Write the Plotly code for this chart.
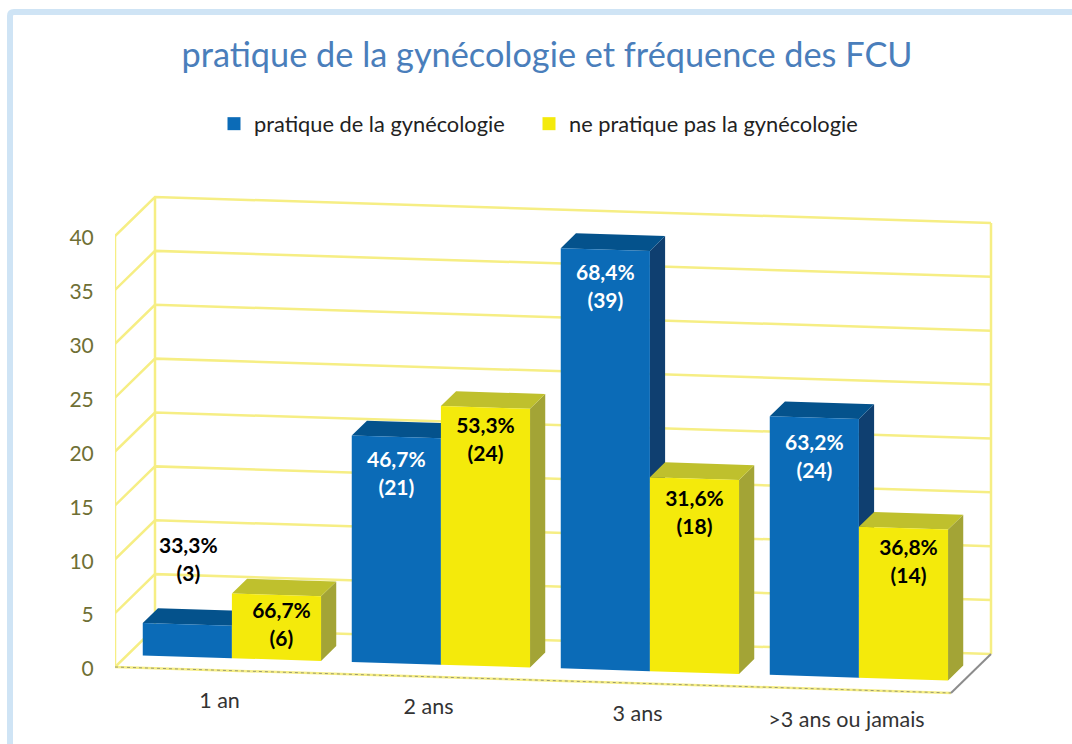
import plotly.graph_objects as go

# ---- data ----
categories = ["1 an", "2 ans", "3 ans", ">3 ans ou jamais"]
series_names = ["pratique de la gynécologie", "ne pratique pas la gynécologie"]
pratique = [3, 21, 39, 24]
ne_pratique = [6, 24, 18, 14]
pct_pratique = ["33,3%", "46,7%", "68,4%", "63,2%"]
pct_ne_pratique = ["66,7%", "53,3%", "31,6%", "36,8%"]
y_ticks = [0, 5, 10, 15, 20, 25, 30, 35, 40]

# ---- oblique projection of the 3D chart box onto the 2D axes ----
W, H = 1072, 744
M_L, M_R, M_T, M_B = 115, 72, 170, 9
PX_PER_CAT = 209.0
PX_PER_VAL = 10.775
DEPTH_X = 40 / PX_PER_CAT
DEPTH_Y = 39 / PX_PER_VAL
SLOPE = 6.49 / PX_PER_VAL
D0, D1 = 0.31, 0.69
BAR_W = 0.4265


def P(u, v, d=0.0):
    return u + DEPTH_X * d, v - SLOPE * u + DEPTH_Y * d


def poly(points):
    xs, ys = zip(*[P(*p) for p in points])
    return list(xs) + [xs[0], None], list(ys) + [ys[0], None]


def faces(vals, start):
    front, top, side = ([], []), ([], []), ([], [])
    for i, v in enumerate(vals):
        a, b = i + start, i + start + BAR_W
        for store, pts in (
            (front, [(a, 0, D0), (b, 0, D0), (b, v, D0), (a, v, D0)]),
            (top, [(a, v, D0), (b, v, D0), (b, v, D1), (a, v, D1)]),
            (side, [(b, 0, D0), (b, 0, D1), (b, v, D1), (b, v, D0)]),
        ):
            xs, ys = poly(pts)
            store[0].extend(xs)
            store[1].extend(ys)
    return front, top, side


fig = go.Figure()
GRID = "#f6ee84"
FONT = "Lato"
n = len(categories)
vmax = y_ticks[-1]


def line(points, color=GRID, width=2.5, dash=None):
    xs, ys = zip(*[P(*p) for p in points])
    fig.add_trace(go.Scatter(x=xs, y=ys, mode="lines", showlegend=False, hoverinfo="skip",
                             line=dict(color=color, width=width, dash=dash)))


# walls and floor
for t in y_ticks:
    line([(0, t, 0), (0, t, 1), (n, t, 1)])
line([(0, 0, 0), (0, vmax, 0)])
line([(0, 0, 1), (0, vmax, 1)])
line([(n, 0, 1), (n, vmax, 1)])
line([(0, 0, 0), (n, 0, 0)])
line([(0, 0, 0), (n, 0, 0)], color="#9a9a70", width=1, dash="dot")
line([(n, 0, 0), (n, 0, 1)], color="#8c8c8c", width=2)

# bars
styles = [
    (pratique, 0.5 - BAR_W, "#0b6bb7", "#04528c", "#0f3f70", "legend"),
    (ne_pratique, 0.5, "#f4ea0b", "#bfc02d", "#a3a436", "legend2"),
]
for name, (vals, start, c_front, c_top, c_side, leg) in zip(series_names, styles):
    front, top, side = faces(vals, start)
    for (xs, ys), c in ((side, c_side), (top, c_top), (front, c_front)):
        fig.add_trace(go.Scatter(x=xs, y=ys, mode="lines", fill="toself", fillcolor=c,
                                 line=dict(width=0, color=c), showlegend=False, hoverinfo="skip"))
    fig.add_trace(go.Scatter(x=[None], y=[None], mode="markers", name=name, legend=leg,
                             marker=dict(symbol="square", size=13, color=c_front)))

# data labels: px offset of the first text line below the bar top, and px shift to the right
label_drop_blue = [-77, 25, 25, 27]
label_drop_yellow = [18, 20, 22, 22]
label_shift_blue = [1, 0, 0, 0]
label_shift_yellow = [5, 0, 0, 5]
LINE_GAP = 28
for vals, start, pcts, drops, shifts, color in (
    (pratique, 0.5 - BAR_W, pct_pratique, label_drop_blue, label_shift_blue, "white"),
    (ne_pratique, 0.5, pct_ne_pratique, label_drop_yellow, label_shift_yellow, "black"),
):
    xs, ys, txt, cols = [], [], [], []
    for i, (v, p, dr, sh) in enumerate(zip(vals, pcts, drops, shifts)):
        c = i + start + BAR_W / 2
        x, y = P(c, v, D0)
        x += sh / PX_PER_CAT
        xs += [x, x]
        ys += [y - dr / PX_PER_VAL, y - (dr + LINE_GAP) / PX_PER_VAL]
        txt += [p, f"({v})"]
        cols += ["black" if (i == 0 and color == "white") else color] * 2
    fig.add_trace(go.Scatter(x=xs, y=ys, text=txt, mode="text", showlegend=False, hoverinfo="skip",
                             cliponaxis=False, textposition="middle center",
                             textfont=dict(family=FONT, size=21, color=cols, weight="bold")))

# category labels
cx, cy = zip(*[P(i + 0.5, -3.0, 0) for i in range(n)])
fig.add_trace(go.Scatter(x=cx, y=cy, text=categories, mode="text", showlegend=False, hoverinfo="skip",
                         cliponaxis=False, textposition="middle center",
                         textfont=dict(family=FONT, size=21.5, color="#333333")))


def px(x):
    return (x - M_L) / (W - M_L - M_R)


def py(y):
    return 1 - (y - M_T) / (H - M_T - M_B)


LEGEND_FONT = dict(family=FONT, size=21.8, color="#222222")
# window frame
frame = (f"M {px(10)} {py(760)} L {px(10)} {py(16)} Q {px(10)} {py(12)} {px(14)} {py(12)} L {px(1090)} {py(12)}")
fig.update_layout(
    width=W, height=H, margin=dict(l=M_L, r=M_R, t=M_T, b=M_B),
    paper_bgcolor="white", plot_bgcolor="rgba(0,0,0,0)",
    font=dict(family=FONT),
    title=dict(text="pratique de la gynécologie et fréquence des FCU",
               font=dict(family=FONT, size=34.3, color="#4a7ebb"),
               x=547 / W, xanchor="center", y=1 - 55 / H, yanchor="middle"),
    legend=dict(x=px(214), xanchor="left", y=py(124), yanchor="middle",
                font=LEGEND_FONT, bgcolor="rgba(0,0,0,0)"),
    legend2=dict(x=px(529), xanchor="left", y=py(124), yanchor="middle",
                 font=LEGEND_FONT, bgcolor="rgba(0,0,0,0)"),
    xaxis=dict(visible=False, range=[0, (W - M_L - M_R) / PX_PER_CAT], fixedrange=True),
    yaxis=dict(range=[(667 - (H - M_B)) / PX_PER_VAL, (667 - M_T) / PX_PER_VAL],
               tickvals=y_ticks, showgrid=False, zeroline=False, showline=False,
               ticks="outside", ticklen=16, tickcolor="rgba(0,0,0,0)", fixedrange=True,
               ticklabelshift=2,
               tickfont=dict(family=FONT, size=21, color="#6f6f35")),
    shapes=[dict(type="path", path=frame, xref="paper", yref="paper",
                 line=dict(color="#cfe4f5", width=6), layer="below")],
)
fig.write_html("out.html", config=dict(displayModeBar=False),
               post_script="document.body.style.margin='0';document.body.style.overflow='hidden';")
